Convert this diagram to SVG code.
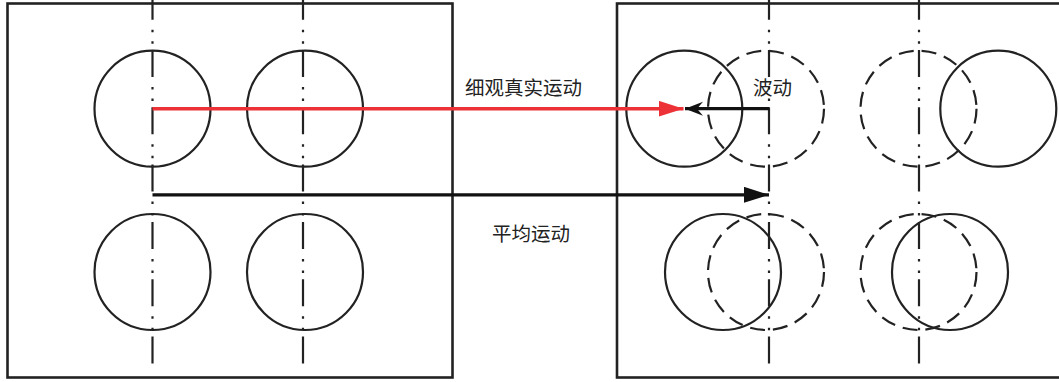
<svg xmlns="http://www.w3.org/2000/svg" width="1059" height="382" viewBox="0 0 1059 382">
<style>
.box{fill:none;stroke:#222;stroke-width:2.6}
.c{fill:none;stroke:#222;stroke-width:2.2}
.d{fill:none;stroke:#222;stroke-width:2.2;stroke-dasharray:15 8}
.cl{fill:none;stroke:#222;stroke-width:2.2;stroke-dasharray:27 10 2.5 9 2.5 6.3}
.t{font-family:"Noto Sans CJK SC","Noto Sans CJK JP",sans-serif;font-size:19.5px;fill:#222}
</style>
<defs>
<marker id="ar" markerUnits="userSpaceOnUse" markerWidth="26" markerHeight="18" refX="25" refY="8" orient="auto">
<path d="M0,0 L25,8 L0,16 Z" fill="#ED3237"/>
</marker>
<marker id="ab" markerUnits="userSpaceOnUse" markerWidth="26" markerHeight="18" refX="25" refY="8" orient="auto">
<path d="M0,0 L25,8 L0,16 Z" fill="#111"/>
</marker>
<marker id="as" markerUnits="userSpaceOnUse" markerWidth="20" markerHeight="16" refX="18" refY="7" orient="auto">
<path d="M0,0 L18,7 L0,14 L6,7 Z" fill="#111"/>
</marker>
</defs>
<g id="left-panel">
<rect class="box" x="7.5" y="3.5" width="445" height="374"/>
<line class="cl" x1="152.5" y1="-7.3" x2="152.5" y2="372"/>
<line class="cl" x1="303" y1="-7.3" x2="303" y2="372"/>
</g>
<g id="right-panel">
<rect class="box" x="617" y="3.5" width="450" height="374"/>
<line class="cl" x1="769" y1="-7.3" x2="769" y2="372"/>
<line class="cl" x1="919" y1="-7.3" x2="919" y2="372"/>
</g>
<g id="left-circles">
<circle class="c" cx="152.5" cy="108.7" r="58"/>
<circle class="c" cx="305" cy="108.7" r="58"/>
<circle class="c" cx="152.5" cy="272" r="58"/>
<circle class="c" cx="305" cy="272" r="58"/>
</g>
<g id="right-circles">
<circle class="c" cx="684.3" cy="108.7" r="58"/>
<circle class="d" cx="766" cy="108.7" r="58"/>
<circle class="d" cx="918.5" cy="108.7" r="58"/>
<circle class="c" cx="998.3" cy="108.7" r="58"/>
<circle class="c" cx="723" cy="272" r="58"/>
<circle class="d" cx="766" cy="272" r="58"/>
<circle class="d" cx="918.5" cy="272" r="58"/>
<circle class="c" cx="950" cy="272" r="58"/>
</g>
<g id="connectors">
<line x1="152.5" y1="108.7" x2="683.5" y2="108.7" stroke="#ED3237" stroke-width="3.6" marker-end="url(#ar)"/>
<line x1="769" y1="108.7" x2="685" y2="108.7" stroke="#111" stroke-width="3.2" marker-end="url(#as)"/>
<line x1="152.5" y1="194.8" x2="769" y2="194.8" stroke="#111" stroke-width="3.2" marker-end="url(#ab)"/>
</g>
<g id="labels">
<text class="t" x="465" y="95">细观真实运动</text>
<text class="t" x="492" y="241">平均运动</text>
<text class="t" x="753" y="95">波动</text>
</g>
</svg>
